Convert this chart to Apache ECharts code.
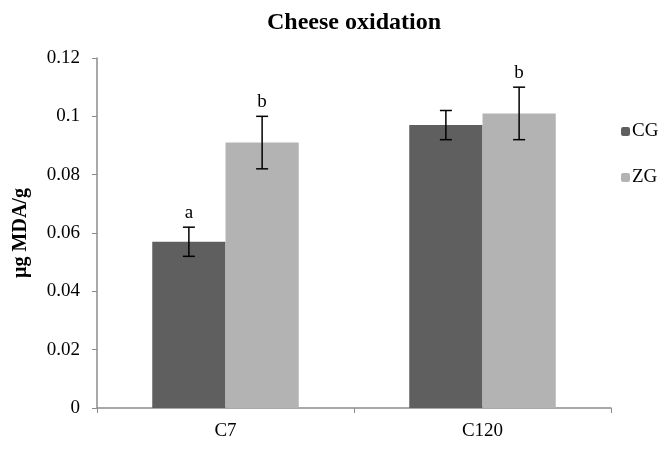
<!DOCTYPE html>
<html>
<head>
<meta charset="utf-8">
<style>
  html, body { margin: 0; padding: 0; background: #fff; }
  #main { width: 670px; height: 450px; }
</style>
<script src="https://cdn.jsdelivr.net/npm/echarts@6/dist/echarts.min.js"></script>
</head>
<body>
<div id="main"></div>
<script>
// data
var categories = ["C7", "C120"];
var seriesNames = ["CG", "ZG"];
var cgValues = [0.057, 0.097];
var zgValues = [0.091, 0.101];
var cgErrors = [0.005, 0.005];
var zgErrors = [0.009, 0.009];
var cgLetters = ["a", ""];
var zgLetters = ["b", "b"];

var colors = ["#5f5f5f", "#b3b3b3"];
var font = "'Liberation Serif', 'Times New Roman', serif";

var myChart = echarts.init(document.getElementById("main"));

// error bar + significance letter for one series (side 0 = left bar, 1 = right bar)
function errorSeries(values, errors, letters, side) {
  return {
    type: "custom",
    z: 10,
    silent: true,
    data: values.map(function (v, i) {
      return [i, v, errors[i]];
    }),
    renderItem: function (params, api) {
      var cat = api.value(0);
      var v = api.value(1);
      var e = api.value(2);
      var letter = letters[params.dataIndex];
      var band = api.size([1, 0])[0];
      var barW = band * (1 - 0.43) / 2;
      var x = api.coord([cat, v])[0] + (side === 0 ? -barW / 2 : barW / 2);
      var top = api.coord([cat, v + e])[1];
      var bot = api.coord([cat, v - e])[1];
      var capW = 6;
      var st = { stroke: "#000", lineWidth: 1.5 };
      var children = [
        { type: "line", shape: { x1: x, y1: top, x2: x, y2: bot }, style: st },
        { type: "line", shape: { x1: x - capW, y1: top, x2: x + capW, y2: top }, style: st },
        { type: "line", shape: { x1: x - capW, y1: bot, x2: x + capW, y2: bot }, style: st }
      ];
      if (letter) {
        children.push({
          type: "text",
          style: {
            text: letter,
            x: x,
            y: top - 5,
            align: "center",
            verticalAlign: "bottom",
            fill: "#000",
            font: "19px " + font
          }
        });
      }
      return { type: "group", children: children };
    }
  };
}

myChart.setOption({
  animation: false,
  title: {
    text: "Cheese oxidation",
    left: 349,
    textAlign: "center",
    top: 6,
    textStyle: { fontFamily: font, fontSize: 24, fontWeight: "bold", color: "#000" }
  },
  legend: {
    orient: "vertical",
    left: 616,
    top: 117,
    itemGap: 27,
    itemWidth: 9,
    itemHeight: 9,
    data: seriesNames,
    textStyle: { fontFamily: font, fontSize: 19, color: "#000", padding: [0, 0, 0, -3] }
  },
  grid: { left: 97, right: 59, top: 58, bottom: 42, outerBoundsMode: "none", containLabel: false },
  xAxis: {
    type: "category",
    data: categories,
    axisLine: { lineStyle: { color: "#8c8c8c", width: 1.5 } },
    axisTick: { show: true, length: 5, lineStyle: { color: "#8c8c8c" } },
    axisLabel: { fontFamily: font, fontSize: 19, color: "#000", margin: 14 }
  },
  yAxis: {
    type: "value",
    min: 0,
    max: 0.12,
    interval: 0.02,
    name: "µg MDA/g",
    nameLocation: "middle",
    nameGap: 66,
    nameRotate: 90,
    nameTextStyle: { fontFamily: font, fontSize: 20, fontWeight: "bold", color: "#000" },
    axisLine: { show: true, lineStyle: { color: "#8c8c8c", width: 1.5 } },
    axisTick: { show: true, length: 5, lineStyle: { color: "#8c8c8c" } },
    splitLine: { show: false },
    axisLabel: {
      fontFamily: font,
      fontSize: 19,
      color: "#000",
      margin: 17,
      formatter: function (v) { return String(+v.toFixed(2)); }
    }
  },
  series: [
    {
      name: "CG",
      type: "bar",
      data: cgValues,
      barGap: "0%",
      barCategoryGap: "43%",
      itemStyle: { color: colors[0] }
    },
    {
      name: "ZG",
      type: "bar",
      data: zgValues,
      barGap: "0%",
      barCategoryGap: "43%",
      itemStyle: { color: colors[1] }
    },
    errorSeries(cgValues, cgErrors, cgLetters, 0),
    errorSeries(zgValues, zgErrors, zgLetters, 1)
  ]
});
</script>
</body>
</html>
